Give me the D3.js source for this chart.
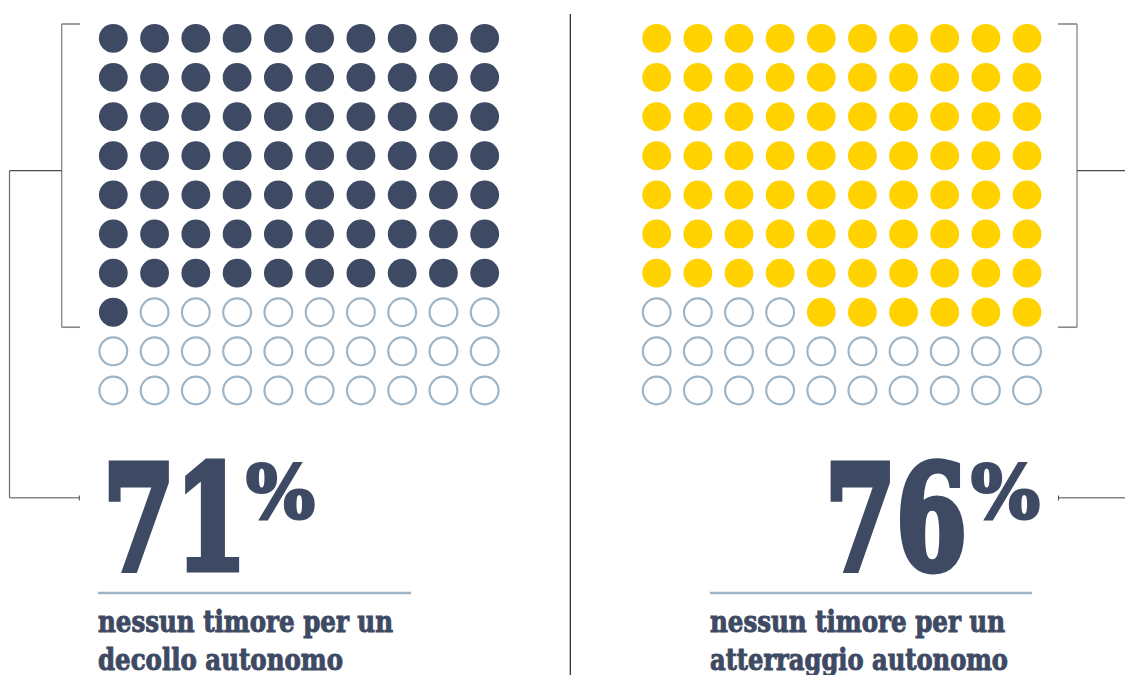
<!DOCTYPE html>
<html>
<head>
<meta charset="utf-8">
<script src="https://cdn.jsdelivr.net/npm/d3@7"></script>
<style>
  html, body { margin: 0; padding: 0; background: #ffffff; }
  svg { display: block; }
  text { font-family: "DejaVu Serif", "Liberation Serif", serif; font-weight: bold; }
</style>
</head>
<body>
<svg id="chart" width="1125" height="675"></svg>
<script>
// ---- data ----
const panels = ["decollo", "atterraggio"];
const percentValues = [71, 76];
const bigLabels = ["71", "76"];
const captionLine1 = ["nessun timore per un", "nessun timore per un"];
const captionLine2 = ["decollo autonomo", "atterraggio autonomo"];
const gridRows = 10;
const gridCols = 10;

// ---- style ----
const NAVY = "#3e4a63";
const YELLOW = "#ffd200";
const EMPTY = "#9fb5c6";
const fills = [NAVY, YELLOW];

const svg = d3.select("#chart");

const y = d3.scaleLinear().domain([0, gridRows - 1]).range([38.3, 390.5]);
const xScales = [
  d3.scaleLinear().domain([0, gridCols - 1]).range([113.3, 484.7]),
  d3.scaleLinear().domain([0, gridCols - 1]).range([656.7, 1027.0])
];
// partial row: left panel fills from the left, right panel fills from the right
const partialFromRight = [false, true];

panels.forEach((p, k) => {
  const x = xScales[k];
  const v = percentValues[k];
  const fullRows = Math.floor(v / gridCols);
  const rem = v % gridCols;
  const cells = d3.range(gridRows * gridCols).map(i => {
    const r = Math.floor(i / gridCols), c = i % gridCols;
    let filled;
    if (r < fullRows) filled = true;
    else if (r > fullRows) filled = false;
    else filled = partialFromRight[k] ? c >= gridCols - rem : c < rem;
    return { r, c, filled };
  });
  const g = svg.append("g");
  g.selectAll("circle").data(cells).join("circle")
    .attr("cx", d => x(d.c))
    .attr("cy", d => y(d.r))
    .attr("r", d => d.filled ? 14.4 : 13.9)
    .attr("fill", d => d.filled ? fills[k] : "none")
    .attr("stroke", d => d.filled ? "none" : EMPTY)
    .attr("stroke-width", 2.2);
});

// ---- brackets ----
const GRAY = "#878787";
const DARK = "#4a4a4a";
function line(x1, y1, x2, y2, color, w) {
  svg.append("line").attr("x1", x1).attr("y1", y1).attr("x2", x2).attr("y2", y2)
    .attr("stroke", color).attr("stroke-width", w || 1.3);
}
const bTop = y(0) - 14.3, bBot = y(7) + 15;
// left inner bracket
line(61.7, bTop, 80, bTop, GRAY, 1.6);
line(61.7, bTop, 61.7, bBot, GRAY, 1.3);
line(61.7, bBot, 80, bBot, GRAY, 1.6);
// left outer connector
line(9.5, 170.7, 61.7, 170.7, DARK, 1.2);
line(9.5, 170.7, 9.5, 497.8, "#6a6a6a", 1.2);
line(9.5, 497.8, 79.3, 497.8, GRAY, 1.4);
line(79.3, 495.5, 79.3, 500.5, DARK, 1);
// right inner bracket
line(1058, bTop, 1077, bTop, GRAY, 1.6);
line(1077, bTop, 1077, bBot, GRAY, 1.3);
line(1058, bBot, 1077, bBot, GRAY, 1.6);
// right connectors
line(1077, 170.7, 1125, 170.7, DARK, 1.2);
line(1058.5, 497.8, 1125, 497.8, GRAY, 1.4);
line(1058.5, 495.5, 1058.5, 500.5, DARK, 1);

// center divider
line(570.3, 14, 570.3, 675, "#222222", 1.2);

// ---- big numbers: horizontally condensed via transform ----
function condensedText(str, x, yb, size, targetW, strokeW) {
  const t = svg.append("text")
    .attr("font-size", size)
    .attr("fill", NAVY)
    .attr("stroke", NAVY)
    .attr("stroke-width", strokeW)
    .attr("vector-effect", "non-scaling-stroke")
    .text(str);
  const w = t.node().getComputedTextLength();
  t.attr("transform", `translate(${x},${yb}) scale(${targetW / w},1)`);
  return t;
}
const numX = [103, 825];
const numW = [144, 142];
const pctX = [246, 971];
panels.forEach((p, k) => {
  condensedText(bigLabels[k], numX[k], 569, 145, numW[k], 6);
  condensedText("%", pctX[k], 518, 73, 69, 3);
});

// ---- rules and captions ----
const ruleX = [[98, 411], [710, 1032]];
const capX = [98, 710];
const cap1W = [295, 295];
const cap2W = [245, 298];
panels.forEach((p, k) => {
  line(ruleX[k][0], 593, ruleX[k][1], 593, EMPTY, 2.6);
  svg.append("text")
    .attr("x", capX[k]).attr("y", 631.5)
    .attr("font-size", 29)
    .attr("fill", NAVY)
    .attr("stroke", NAVY).attr("stroke-width", 1)
    .attr("textLength", cap1W[k]).attr("lengthAdjust", "spacingAndGlyphs")
    .text(captionLine1[k]);
  svg.append("text")
    .attr("x", capX[k]).attr("y", 669.5)
    .attr("font-size", 29)
    .attr("fill", NAVY)
    .attr("stroke", NAVY).attr("stroke-width", 1)
    .attr("textLength", cap2W[k]).attr("lengthAdjust", "spacingAndGlyphs")
    .text(captionLine2[k]);
});
</script>
</body>
</html>
